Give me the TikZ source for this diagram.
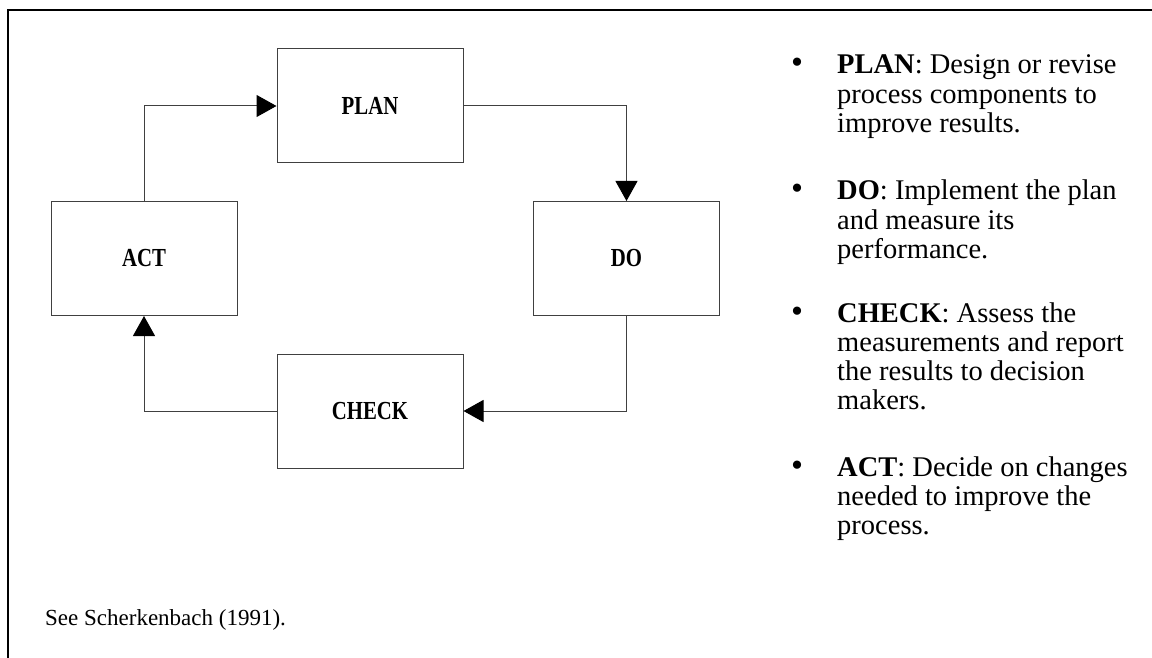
\documentclass[tikz,border=0pt]{standalone}
\usepackage{fontspec}
\usepackage{graphicx}
\setmainfont{Liberation Serif}
\usetikzlibrary{arrows.meta}

\newcommand{\boxlabel}[1]{\scalebox{0.8}[1]{\bfseries #1}}
\newcommand{\itembullet}{\noindent\llap{\scalebox{1.2}{\textbullet}\hspace{34pt}}}

\begin{document}
\begin{tikzpicture}[x=1pt, y=-1pt, >={Triangle[length=20pt, width=22pt, color=black]},
    box/.style={draw=black!75, line width=1pt, minimum width=186pt, minimum height=114pt,
      inner sep=0pt, font=\fontsize{26}{30}\selectfont},
    link/.style={->, draw=black!75, line width=1pt},
    item/.style={anchor=base west, inner sep=0pt, font=\fontsize{28.5}{29.3}\selectfont}]
    \useasboundingbox (0,0) rectangle (1152,658);
    \draw[line width=1.5pt] (1152,10) -- (8,10) -- (8,658);

    \node[box] (plan) at (370,106) {\boxlabel{PLAN}};
    \node[box] (act) at (144,258.5) {\boxlabel{ACT}};
    \node[box] (do) at (626.5,258.5) {\boxlabel{DO}};
    \node[box] (check) at (370,411) {\boxlabel{CHECK}};

    \draw[link] (act.north) |- (plan.west);
    \draw[link] (plan.east) -| (do.north);
    \draw[link] (do.south) |- (check.east);
    \draw[link] (check.west) -| (act.south);

    \node[item] (itemplan) at (837,74) {\parbox[t]{310pt}{\itembullet\textbf{PLAN}: Design or revise\\process components to\\improve results.}};
    \node[item] (itemdo) at (837,200) {\parbox[t]{310pt}{\itembullet\textbf{DO}: Implement the plan\\and measure its\\performance.}};
    \node[item] (itemcheck) at (837,322) {\parbox[t]{310pt}{\itembullet\textbf{CHECK}: Assess the\\measurements and report\\the results to decision\\makers.}};
    \node[item] (itemact) at (837,476) {\parbox[t]{310pt}{\itembullet\textbf{ACT}: Decide on changes\\needed to improve the\\process.}};

    \node[anchor=base west, inner sep=0pt, font=\fontsize{23}{26}\selectfont] (source) at (45,625) {See Scherkenbach (1991).};
\end{tikzpicture}
\end{document}
